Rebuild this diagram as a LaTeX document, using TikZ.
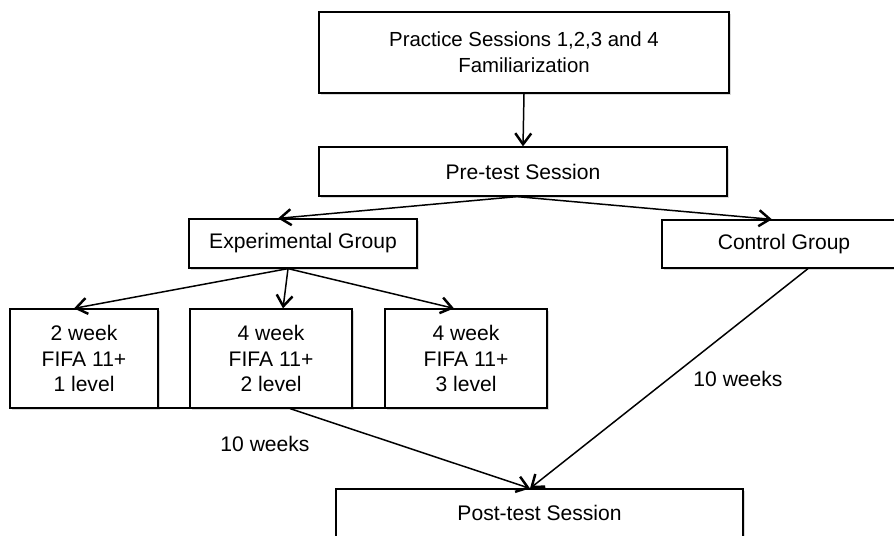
\documentclass[tikz,border=0pt]{standalone}
\usepackage{fontspec}
\setmainfont{Liberation Sans}
\usetikzlibrary{arrows.meta,shadows}

\tikzset{
    box/.style={draw, line width=0.7pt, fill=white, align=center, inner sep=0pt,
        drop shadow={shadow xshift=1.2pt, shadow yshift=-1.2pt, opacity=0.3}},
    arr/.style={line width=0.85pt, -{Straight Barb[length=2.2mm, width=3.2mm, line width=1.4pt]}}
}

\begin{document}
\begin{tikzpicture}[font=\fontsize{12pt}{14.3pt}\selectfont]
    \useasboundingbox (0,0) rectangle (17.88,10.7);

    % Boxes
    \node[box, minimum width=8.2cm, minimum height=1.62cm, font=\fontsize{11.6pt}{15pt}\selectfont] (practice) at (10.48,9.65)
        {Practice Sessions 1,2,3 and 4\\Familiarization};
    \node[box, minimum width=8.16cm, minimum height=0.98cm] (pretest) at (10.46,7.27) {Pre-test Session};
    \node[box, minimum width=4.56cm, minimum height=0.98cm] (expgroup) at (6.06,5.83) {Experimental Group};
    \node[box, minimum width=4.88cm, minimum height=0.96cm] (ctrlgroup) at (15.68,5.82) {Control Group};
    \node[box, minimum width=2.96cm, minimum height=1.98cm] (levelone) at (1.68,3.53) {2 week\\FIFA 11+\\1 level};
    \node[box, minimum width=3.24cm, minimum height=1.98cm] (leveltwo) at (5.42,3.53) {4 week\\FIFA 11+\\2 level};
    \node[box, minimum width=3.24cm, minimum height=1.98cm] (levelthree) at (9.32,3.53) {4 week\\FIFA 11+\\3 level};
    \node[box, minimum width=8.14cm, minimum height=0.96cm] (posttest) at (10.79,0.44) {Post-test Session};

    % Line under the level boxes
    \draw[line width=0.85pt] (1.2,2.54) -- (10.3,2.54);

    % Arrows
    \draw[arr] (practice.south) -- (pretest.north);
    \draw[arr] ([xshift=-0.12cm]pretest.south) -- ([xshift=-0.5cm]expgroup.north);
    \draw[arr] ([xshift=-0.12cm]pretest.south) -- ([xshift=-0.24cm]ctrlgroup.north);
    \draw[arr] ([xshift=-0.3cm]expgroup.south) -- ([xshift=-0.2cm]levelone.north);
    \draw[arr] ([xshift=-0.3cm]expgroup.south) -- ([xshift=0.24cm]leveltwo.north);
    \draw[arr] ([xshift=-0.3cm]expgroup.south) -- ([xshift=-0.24cm]levelthree.north);
    \draw[arr] ([xshift=0.38cm]leveltwo.south) -- ([xshift=-0.19cm]posttest.north);
    \draw[arr] ([xshift=0.48cm]ctrlgroup.south) -- ([xshift=-0.19cm]posttest.north);

    % Labels
    \node (weeksleft) at (5.3,1.82) {10 weeks};
    \node (weeksright) at (14.76,3.12) {10 weeks};

\end{tikzpicture}
\end{document}
